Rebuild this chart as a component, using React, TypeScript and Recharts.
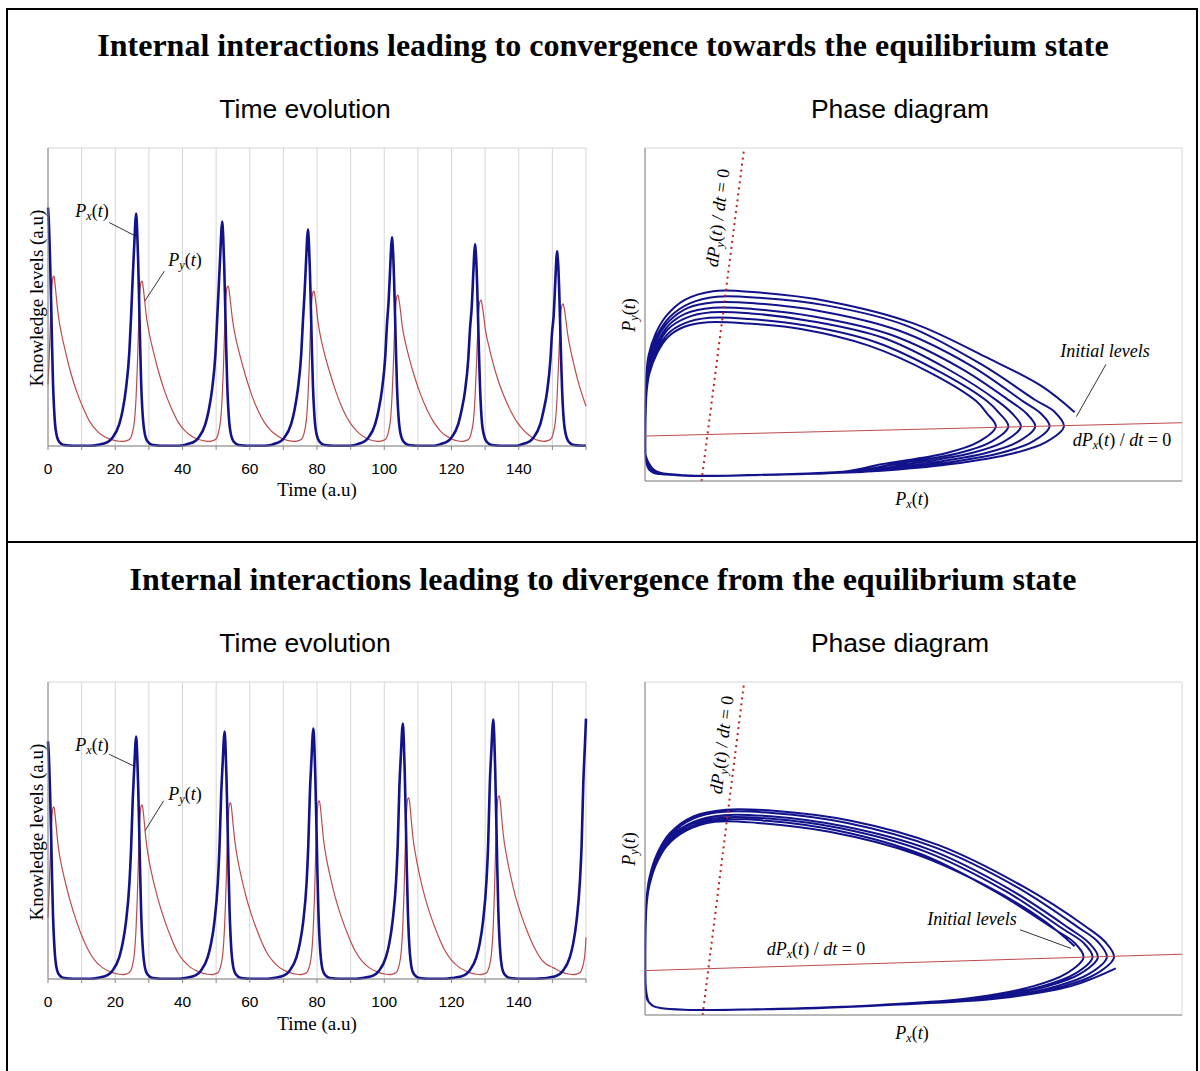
import React from 'react';
import { LineChart, Line, XAxis, YAxis, CartesianGrid } from 'recharts';

const SERIF = "'Liberation Serif', 'Times New Roman', serif";
const SANS = "'Liberation Sans', Arial, sans-serif";
const BLUE = '#12128a';
const RED = '#bd4b4b';
const GRID = '#d6d6d6';
const AXIS = '#868686';

type Pt = [number, number];

const timeTicks = [0, 10, 20, 30, 40, 50, 60, 70, 80, 90, 100, 110, 120, 130, 140, 150, 160];
const levelTicks = [0, 1, 2, 3];
const phaseTicks = [0, 1, 2, 3];

// convergence (top) - one line per cycle
const topTime = [
  0, 0.3, 0.6, 0.9, 1.2, 1.5, 1.8, 2.1, 2.5, 3, 4, 5, 6.5, 8.5, 10.5, 12.5, 14.5, 16.2, 18.2, 19.2, 21.2, 22.2, 23.2, 24.2, 24.7, 25.2, 25.7, 25.95,
  26.2, 26.35, 26.5, 26.8, 27.1, 27.4, 27.7, 28.0, 28.3, 28.7, 29.2, 30.2, 31.2, 32.7, 34.7, 36.7, 38.7, 40.7, 41.8, 43.8, 44.8, 46.8, 47.8, 48.8, 49.8, 50.3, 50.8, 51.3, 51.55,
  51.8, 51.95, 52.1, 52.4, 52.7, 53.0, 53.3, 53.6, 53.9, 54.3, 54.8, 55.8, 56.8, 58.3, 60.3, 62.3, 64.3, 66.3, 67.3, 69.3, 70.3, 72.3, 73.3, 74.3, 75.3, 75.8, 76.3, 76.8, 77.05,
  77.3, 77.45, 77.6, 77.9, 78.2, 78.5, 78.8, 79.1, 79.4, 79.8, 80.3, 81.3, 82.3, 83.8, 85.8, 87.8, 89.8, 91.3, 92.3, 94.3, 95.3, 97.3, 98.3, 99.3, 100.3, 100.8, 101.3, 101.8, 102.05,
  102.3, 102.45, 102.6, 102.9, 103.2, 103.5, 103.8, 104.1, 104.4, 104.8, 105.3, 106.3, 107.3, 108.8, 110.8, 112.8, 114.8, 116.0, 117.0, 119.0, 120.0, 122.0, 123.0, 124.0, 125.0, 125.5, 126.0, 126.5, 126.75,
  127.0, 127.15, 127.3, 127.6, 127.9, 128.2, 128.5, 128.8, 129.1, 129.5, 130.0, 131.0, 132.0, 133.5, 135.5, 137.5, 139.5, 140.4, 141.4, 143.4, 144.4, 146.4, 147.4, 148.4, 149.4, 149.9, 150.4, 150.9, 151.15,
  151.4, 151.55, 151.7, 152.0, 152.3, 152.6, 152.9, 153.2, 153.5, 153.9, 154.4, 155.4, 156.4, 157.9, 160,
];
const topPx = [
  2.40, 2.22, 1.90, 1.50, 1.02, 0.62, 0.38, 0.22, 0.12, 0.06, 0.02, 0.009, 0.004, 0.002, 0.002, 0.003, 0.009, 0.022, 0.05, 0.085, 0.22, 0.36, 0.58, 0.95, 1.30, 1.70, 2.06, 2.24,
  2.34, 2.29, 2.18, 1.88, 1.46, 1.02, 0.64, 0.40, 0.25, 0.14, 0.07, 0.025, 0.01, 0.004, 0.002, 0.002, 0.003, 0.01, 0.022, 0.05, 0.085, 0.22, 0.36, 0.57, 0.93, 1.27, 1.62, 1.98, 2.16,
  2.26, 2.21, 2.11, 1.82, 1.41, 0.98, 0.62, 0.39, 0.24, 0.135, 0.07, 0.025, 0.01, 0.004, 0.002, 0.002, 0.003, 0.01, 0.022, 0.05, 0.085, 0.22, 0.36, 0.57, 0.92, 1.25, 1.54, 1.90, 2.08,
  2.18, 2.13, 2.04, 1.76, 1.37, 0.95, 0.60, 0.38, 0.23, 0.13, 0.07, 0.025, 0.01, 0.004, 0.002, 0.002, 0.003, 0.01, 0.022, 0.05, 0.085, 0.22, 0.36, 0.56, 0.90, 1.22, 1.46, 1.82, 2.00,
  2.10, 2.05, 1.97, 1.70, 1.33, 0.93, 0.59, 0.37, 0.23, 0.13, 0.07, 0.025, 0.01, 0.004, 0.002, 0.002, 0.003, 0.01, 0.022, 0.05, 0.085, 0.22, 0.36, 0.55, 0.88, 1.18, 1.39, 1.75, 1.93,
  2.03, 1.98, 1.91, 1.65, 1.29, 0.90, 0.58, 0.36, 0.22, 0.13, 0.07, 0.025, 0.01, 0.004, 0.002, 0.002, 0.003, 0.01, 0.022, 0.05, 0.085, 0.22, 0.36, 0.54, 0.86, 1.14, 1.32, 1.68, 1.86,
  1.96, 1.91, 1.85, 1.60, 1.25, 0.87, 0.56, 0.35, 0.22, 0.13, 0.07, 0.025, 0.01, 0.004, 0.002,
];
const topPy = [
  0.62, 0.85, 1.12, 1.42, 1.62, 1.70, 1.71, 1.63, 1.49, 1.33, 1.13, 0.98, 0.77, 0.55, 0.38, 0.24, 0.155, 0.105, 0.072, 0.062, 0.048, 0.046, 0.052, 0.066, 0.09, 0.15, 0.25, 0.35,
  0.49, 0.62, 0.73, 1.05, 1.40, 1.58, 1.65, 1.66, 1.60, 1.48, 1.32, 1.12, 0.97, 0.77, 0.55, 0.38, 0.24, 0.155, 0.12, 0.078, 0.065, 0.05, 0.046, 0.052, 0.066, 0.09, 0.15, 0.25, 0.35,
  0.49, 0.61, 0.72, 1.04, 1.36, 1.53, 1.60, 1.61, 1.56, 1.44, 1.29, 1.09, 0.95, 0.76, 0.54, 0.37, 0.24, 0.155, 0.125, 0.08, 0.066, 0.05, 0.046, 0.052, 0.066, 0.09, 0.15, 0.25, 0.35,
  0.49, 0.61, 0.72, 1.02, 1.32, 1.48, 1.55, 1.56, 1.51, 1.40, 1.25, 1.06, 0.92, 0.74, 0.53, 0.36, 0.235, 0.17, 0.135, 0.085, 0.068, 0.05, 0.046, 0.052, 0.066, 0.09, 0.15, 0.25, 0.35,
  0.49, 0.61, 0.72, 1.00, 1.29, 1.44, 1.51, 1.52, 1.47, 1.37, 1.22, 1.04, 0.90, 0.72, 0.52, 0.36, 0.235, 0.18, 0.14, 0.09, 0.07, 0.05, 0.046, 0.052, 0.066, 0.09, 0.15, 0.25, 0.35,
  0.49, 0.61, 0.72, 0.98, 1.25, 1.40, 1.46, 1.47, 1.42, 1.33, 1.19, 1.02, 0.88, 0.70, 0.51, 0.36, 0.24, 0.20, 0.16, 0.10, 0.075, 0.052, 0.047, 0.052, 0.066, 0.09, 0.15, 0.25, 0.35,
  0.49, 0.61, 0.72, 0.97, 1.22, 1.37, 1.42, 1.43, 1.39, 1.30, 1.16, 0.97, 0.82, 0.62, 0.40,
];

// divergence (bottom)
const bottomTime = [
  0, 0.3, 0.6, 0.9, 1.2, 1.5, 1.8, 2.1, 2.5, 3, 4, 5, 6.5, 8.5, 10.5, 12.5, 14.5, 16.2, 18.2, 19.2, 21.2, 22.2, 23.2, 24.2, 24.7, 25.2, 25.7, 25.95,
  26.2, 26.35, 26.5, 26.8, 27.1, 27.4, 27.7, 28.0, 28.3, 28.7, 29.2, 30.2, 31.2, 32.7, 34.7, 36.7, 38.7, 40.7, 42.5, 44.5, 45.5, 47.5, 48.5, 49.5, 50.5, 51.0, 51.5, 52.0, 52.25,
  52.5, 52.65, 52.8, 53.1, 53.4, 53.7, 54.0, 54.3, 54.6, 55.0, 55.5, 56.5, 57.5, 59.0, 61.0, 63.0, 65.0, 67.0, 68.9, 70.9, 71.9, 73.9, 74.9, 75.9, 76.9, 77.4, 77.9, 78.4, 78.65,
  78.9, 79.05, 79.2, 79.5, 79.8, 80.1, 80.4, 80.7, 81.0, 81.4, 81.9, 82.9, 83.9, 85.4, 87.4, 89.4, 91.4, 93.4, 95.5, 97.5, 98.5, 100.5, 101.5, 102.5, 103.5, 104.0, 104.5, 105.0, 105.25,
  105.5, 105.65, 105.8, 106.1, 106.4, 106.7, 107.0, 107.3, 107.6, 108.0, 108.5, 109.5, 110.5, 112.0, 114.0, 116.0, 118.0, 120.0, 122.4, 124.4, 125.4, 127.4, 128.4, 129.4, 130.4, 130.9, 131.4, 131.9, 132.15,
  132.4, 132.55, 132.7, 133.0, 133.3, 133.6, 133.9, 134.2, 134.5, 134.9, 135.4, 136.4, 137.4, 138.9, 140.9, 142.9, 144.9, 146.9, 148.2, 150.2, 152.2, 153.2, 155.2, 156.2, 157.2, 158.2, 158.7, 159.2, 159.7, 160,
];
const bottomPx = [
  2.40, 2.22, 1.91, 1.51, 1.03, 0.63, 0.39, 0.23, 0.12, 0.06, 0.02, 0.009, 0.004, 0.002, 0.002, 0.003, 0.009, 0.022, 0.05, 0.085, 0.22, 0.36, 0.58, 0.96, 1.31, 1.81, 2.17, 2.35,
  2.45, 2.40, 2.29, 1.97, 1.54, 1.08, 0.68, 0.42, 0.26, 0.14, 0.07, 0.025, 0.01, 0.004, 0.002, 0.002, 0.003, 0.009, 0.022, 0.05, 0.085, 0.22, 0.36, 0.58, 0.97, 1.33, 1.86, 2.22, 2.40,
  2.50, 2.45, 2.34, 2.01, 1.57, 1.10, 0.69, 0.43, 0.26, 0.14, 0.07, 0.025, 0.01, 0.004, 0.002, 0.002, 0.003, 0.009, 0.022, 0.05, 0.085, 0.22, 0.36, 0.58, 0.97, 1.34, 1.89, 2.25, 2.43,
  2.53, 2.48, 2.37, 2.04, 1.59, 1.11, 0.70, 0.44, 0.27, 0.14, 0.07, 0.025, 0.01, 0.004, 0.002, 0.002, 0.003, 0.009, 0.022, 0.05, 0.085, 0.22, 0.36, 0.59, 0.98, 1.35, 1.94, 2.30, 2.48,
  2.58, 2.53, 2.42, 2.08, 1.62, 1.13, 0.71, 0.44, 0.27, 0.14, 0.07, 0.025, 0.01, 0.004, 0.002, 0.002, 0.003, 0.009, 0.022, 0.05, 0.085, 0.22, 0.36, 0.59, 0.99, 1.36, 1.98, 2.34, 2.52,
  2.62, 2.57, 2.46, 2.11, 1.64, 1.15, 0.72, 0.45, 0.27, 0.14, 0.07, 0.025, 0.01, 0.004, 0.002, 0.002, 0.003, 0.006, 0.01, 0.022, 0.05, 0.085, 0.22, 0.36, 0.59, 0.99, 1.36, 1.98, 2.38, 2.63,
];
const bottomPy = [
  0.62, 0.86, 1.16, 1.45, 1.65, 1.73, 1.74, 1.66, 1.52, 1.35, 1.15, 1.00, 0.80, 0.58, 0.40, 0.26, 0.165, 0.115, 0.078, 0.064, 0.048, 0.045, 0.05, 0.065, 0.09, 0.15, 0.26, 0.37,
  0.52, 0.65, 0.77, 1.10, 1.45, 1.66, 1.75, 1.76, 1.70, 1.56, 1.39, 1.17, 1.01, 0.81, 0.59, 0.41, 0.26, 0.17, 0.115, 0.078, 0.064, 0.048, 0.045, 0.05, 0.064, 0.09, 0.15, 0.26, 0.37,
  0.52, 0.65, 0.77, 1.12, 1.47, 1.68, 1.77, 1.78, 1.72, 1.58, 1.41, 1.19, 1.03, 0.82, 0.60, 0.42, 0.27, 0.175, 0.115, 0.078, 0.064, 0.048, 0.045, 0.05, 0.064, 0.09, 0.15, 0.26, 0.37,
  0.52, 0.65, 0.78, 1.13, 1.49, 1.70, 1.79, 1.80, 1.74, 1.60, 1.42, 1.20, 1.04, 0.83, 0.61, 0.43, 0.28, 0.18, 0.115, 0.078, 0.064, 0.048, 0.045, 0.05, 0.064, 0.09, 0.15, 0.26, 0.37,
  0.52, 0.66, 0.79, 1.15, 1.51, 1.73, 1.82, 1.83, 1.77, 1.62, 1.44, 1.22, 1.05, 0.84, 0.62, 0.44, 0.29, 0.19, 0.115, 0.078, 0.064, 0.048, 0.045, 0.05, 0.064, 0.09, 0.15, 0.26, 0.37,
  0.52, 0.66, 0.80, 1.16, 1.53, 1.75, 1.84, 1.85, 1.79, 1.64, 1.46, 1.24, 1.07, 0.85, 0.63, 0.45, 0.30, 0.19, 0.15, 0.115, 0.078, 0.064, 0.048, 0.045, 0.05, 0.064, 0.09, 0.15, 0.26, 0.42,
];

// nullclines (Px, Py end points)
const topNullPx: Pt[] = [[0, 0.405], [3, 0.525]];
const topNullPy: Pt[] = [[0.316, 0], [0.554, 3]];
const bottomNullPx: Pt[] = [[0, 0.4], [3, 0.548]];
const bottomNullPy: Pt[] = [[0.322, 0], [0.554, 3]];

// annotation pointer lines
const topTimeLeaders: Pt[][] = [[[18.2, 2.25], [25.7, 2.12]], [[34.6, 1.76], [28.8, 1.46]]];
const bottomTimeLeaders: Pt[][] = [[[18.2, 2.27], [25.6, 2.15]], [[34.4, 1.8], [28.9, 1.5]]];
const topPhaseLeader: Pt[] = [[2.575, 1.05], [2.41, 0.58]];
const bottomPhaseLeader: Pt[] = [[2.095, 0.768], [2.38, 0.6]];

// centripetal Catmull-Rom, so the looping phase path stays smooth
const catmullRom = (context: any) => {
  let pts: number[][] = [];
  return {
    areaStart() {},
    areaEnd() {},
    lineStart() {
      pts = [];
    },
    point(x: number, y: number) {
      pts.push([+x, +y]);
    },
    lineEnd() {
      const n = pts.length;
      if (!n) return;
      const dist = (a: number[], b: number[]) => Math.hypot(a[0] - b[0], a[1] - b[1]);
      context.moveTo(pts[0][0], pts[0][1]);
      for (let i = 0; i < n - 1; i++) {
        const p1 = pts[i];
        const p2 = pts[i + 1];
        const p0 = i > 0 ? pts[i - 1] : null;
        const p3 = i + 2 < n ? pts[i + 2] : null;
        const d12 = dist(p1, p2);
        const l12 = Math.sqrt(d12);
        let c1 = p1;
        let c2 = p2;
        if (p0) {
          const d01 = dist(p0, p1);
          const l01 = Math.sqrt(d01);
          if (l01 > 1e-6) {
            const a = 2 * d01 + 3 * l01 * l12 + d12;
            const m = 3 * l01 * (l01 + l12);
            c1 = [(p1[0] * a - p0[0] * d12 + p2[0] * d01) / m, (p1[1] * a - p0[1] * d12 + p2[1] * d01) / m];
          }
        }
        if (p3) {
          const d23 = dist(p2, p3);
          const l23 = Math.sqrt(d23);
          if (l23 > 1e-6) {
            const b = 2 * d23 + 3 * l23 * l12 + d12;
            const m = 3 * l23 * (l23 + l12);
            c2 = [(p2[0] * b + p1[0] * d23 - p3[0] * d12) / m, (p2[1] * b + p1[1] * d23 - p3[1] * d12) / m];
          }
        }
        context.bezierCurveTo(c1[0], c1[1], c2[0], c2[1], p2[0], p2[1]);
      }
    },
  };
};

const TimeChart = ({ time, px, py, leaders, axisHeight }: { time: number[]; px: number[]; py: number[]; leaders: Pt[][]; axisHeight: number }) => {
  const data = time.map((t, i) => ({ t, px: px[i], py: py[i] }));
  return (
    <LineChart width={580} height={360} data={data} margin={{ top: 8, right: 14, bottom: 0, left: 0 }}>
      <CartesianGrid stroke={GRID} />
      <XAxis
        dataKey="t"
        type="number"
        domain={[0, 160]}
        ticks={timeTicks}
        interval={0}
        tickFormatter={(v: number) => (v % 20 === 0 && v < 160 ? String(v) : '')}
        height={axisHeight}
        stroke={AXIS}
        tickSize={4}
        tickMargin={13}
        tick={{ fill: '#000', fontSize: 15.5, fontFamily: SANS }}
      />
      <YAxis type="number" domain={[0, 3]} ticks={levelTicks} interval={0} tick={false} width={28} stroke={AXIS} tickSize={5} />
      <Line dataKey="py" type="monotone" stroke={RED} strokeWidth={1.2} dot={false} isAnimationActive={false} />
      <Line dataKey="px" type="monotone" stroke={BLUE} strokeWidth={2.6} dot={false} isAnimationActive={false} />
      {leaders.map((seg, i) => (
        <Line
          key={i}
          data={seg.map(([t, v]) => ({ t, v }))}
          dataKey="v"
          type="linear"
          stroke="#000"
          strokeWidth={0.8}
          dot={false}
          isAnimationActive={false}
        />
      ))}
    </LineChart>
  );
};

const PhaseChart = ({ px, py, nullPx, nullPy, leader }: { px: number[]; py: number[]; nullPx: Pt[]; nullPy: Pt[]; leader: Pt[] }) => {
  const data = px.map((x, i) => ({ x, y: py[i] }));
  const seg = (pts: Pt[]) => pts.map(([x, y]) => ({ x, y }));
  return (
    <LineChart width={590} height={360} data={data} margin={{ top: 8, right: 18, bottom: 0, left: 0 }}>
      <CartesianGrid stroke={GRID} />
      <XAxis dataKey="x" type="number" domain={[0, 3]} ticks={phaseTicks} interval={0} tick={false} height={19} stroke={AXIS} tickSize={5} />
      <YAxis type="number" domain={[0, 3]} ticks={phaseTicks} interval={0} tick={false} width={35} stroke={AXIS} tickSize={5} />
      <Line dataKey="y" type={catmullRom as any} stroke={BLUE} strokeWidth={2} dot={false} isAnimationActive={false} />
      <Line data={seg(nullPx)} dataKey="y" type="linear" stroke={RED} strokeWidth={1} dot={false} isAnimationActive={false} />
      <Line data={seg(nullPy)} dataKey="y" type="linear" stroke="#c02020" strokeWidth={2} strokeDasharray="2 4" dot={false} isAnimationActive={false} />
      <Line data={seg(leader)} dataKey="y" type="linear" stroke="#000" strokeWidth={0.8} dot={false} isAnimationActive={false} />
    </LineChart>
  );
};

const Txt = ({ x, y, size, rot = 0, family = SERIF, bold = false, italic = false, children }: any) => (
  <div
    style={{
      position: 'absolute',
      left: x,
      top: y,
      transform: `translate(-50%, -50%) rotate(${rot}deg)`,
      whiteSpace: 'nowrap',
      fontSize: size,
      fontFamily: family,
      fontWeight: bold ? 700 : 400,
      fontStyle: italic ? 'italic' : 'normal',
      lineHeight: 1,
      color: '#000',
    }}
  >
    {children}
  </div>
);

const Sub = ({ c }: { c: string }) => (
  <span style={{ fontSize: '0.68em', verticalAlign: '-0.28em', fontStyle: 'italic' }}>{c}</span>
);
const Pfn = ({ s }: { s: string }) => (
  <>
    <i>P</i>
    <Sub c={s} />(<i>t</i>)
  </>
);
const Rate = ({ s }: { s: string }) => (
  <>
    <i>d</i>
    <Pfn s={s} /> / <i>dt</i> = 0
  </>
);

const Panel = ({ dy, title, time, px, py, timeLeaders, nullPx, nullPy, phaseLeader, axisHeight, initPos, ratePxPos, ratePyPos }: any) => (
  <>
    <Txt x={603} y={45 + dy} size={32} bold>
      {title}
    </Txt>
    <Txt x={305} y={109 + dy} size={26.5} family={SANS}>
      Time evolution
    </Txt>
    <Txt x={900} y={109 + dy} size={26.5} family={SANS}>
      Phase diagram
    </Txt>
    <div style={{ position: 'absolute', left: 20, top: 140 + dy }}>
      <TimeChart time={time} px={px} py={py} leaders={timeLeaders} axisHeight={axisHeight} />
    </div>
    <div style={{ position: 'absolute', left: 610, top: 140 + dy }}>
      <PhaseChart px={px} py={py} nullPx={nullPx} nullPy={nullPy} leader={phaseLeader} />
    </div>
    <Txt x={317} y={489 + dy} size={19}>
      Time (a.u)
    </Txt>
    <Txt x={36} y={298 + dy} size={19} rot={-90}>
      Knowledge levels (a.u)
    </Txt>
    <Txt x={92} y={212 + dy} size={18}>
      <Pfn s="x" />
    </Txt>
    <Txt x={185} y={261 + dy} size={18}>
      <Pfn s="y" />
    </Txt>
    <Txt x={912} y={500 + dy} size={18}>
      <Pfn s="x" />
    </Txt>
    <Txt x={630} y={315 + dy} size={18} rot={-90}>
      <Pfn s="y" />
    </Txt>
    <Txt x={ratePyPos[0]} y={ratePyPos[1] + dy} size={18} rot={-83}>
      <Rate s="y" />
    </Txt>
    <Txt x={initPos[0]} y={initPos[1] + dy} size={18} italic>
      Initial levels
    </Txt>
    <Txt x={ratePxPos[0]} y={ratePxPos[1] + dy} size={18}>
      <Rate s="x" />
    </Txt>
  </>
);

export default function App() {
  return (
    <div style={{ position: 'absolute', left: 0, top: 0, width: 1200, height: 1071, overflow: 'hidden', background: '#fff', fontFamily: SERIF }}>
      <div
        style={{
          position: 'absolute',
          left: 6,
          top: 8,
          width: 1192,
          height: 1063,
          boxSizing: 'border-box',
          borderTop: '2px solid #000',
          borderLeft: '2px solid #000',
          borderRight: '2px solid #000',
        }}
      />
      <div style={{ position: 'absolute', left: 6, top: 541, width: 1192, height: 2, background: '#000' }} />
      <Panel
        dy={0}
        title="Internal interactions leading to convergence towards the equilibrium state"
        time={topTime}
        px={topPx}
        py={topPy}
        timeLeaders={topTimeLeaders}
        nullPx={topNullPx}
        nullPy={topNullPy}
        phaseLeader={topPhaseLeader}
        axisHeight={54}
        initPos={[1105, 351]}
        ratePxPos={[1122, 441]}
        ratePyPos={[719, 218]}
      />
      <Panel
        dy={534}
        title="Internal interactions leading to divergence from the equilibrium state"
        time={bottomTime}
        px={bottomPx}
        py={bottomPy}
        timeLeaders={bottomTimeLeaders}
        nullPx={bottomNullPx}
        nullPy={bottomNullPy}
        phaseLeader={bottomPhaseLeader}
        axisHeight={55}
        initPos={[972, 385]}
        ratePxPos={[816, 416]}
        ratePyPos={[723, 211]}
      />
    </div>
  );
}
